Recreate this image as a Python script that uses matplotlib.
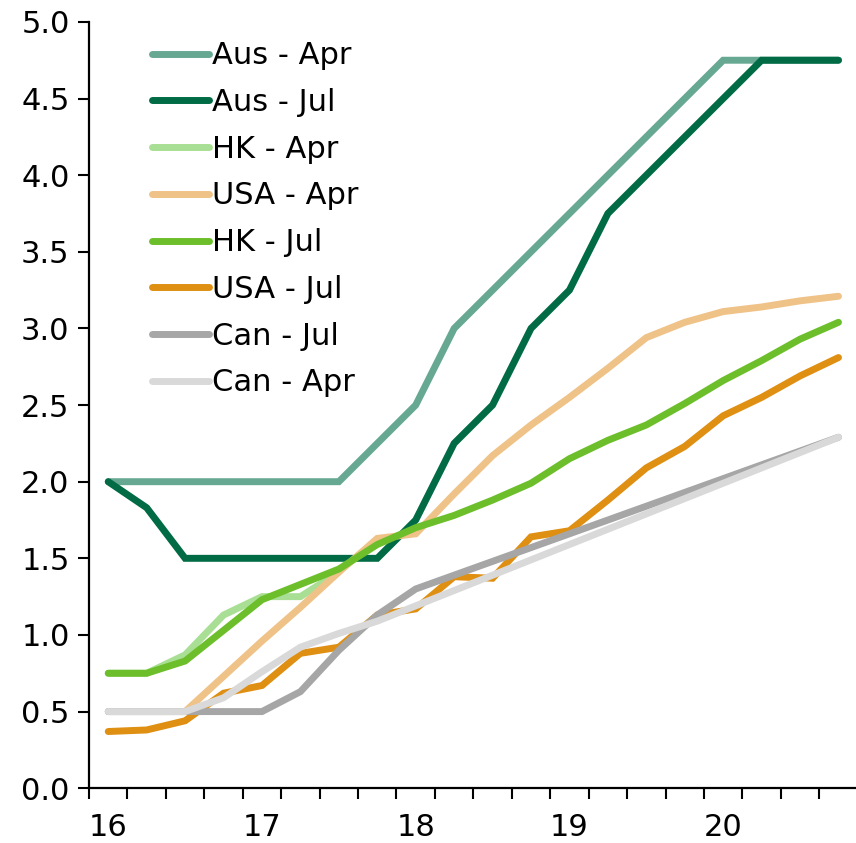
import numpy as np
import matplotlib
matplotlib.use("Agg")
import matplotlib.pyplot as plt
from matplotlib.ticker import FixedLocator, FormatStrFormatter

# quarterly, 2016Q1 .. 2020Q4
quarters = ["16", "", "", "", "17", "", "", "", "18", "", "", "",
            "19", "", "", "", "20", "", "", ""]

nan = np.nan
aus_apr = [2.0, 2.0, 2.0, 2.0, 2.0, 2.0, 2.0, 2.25, 2.5, 3.0, 3.25, 3.5,
           3.75, 4.0, 4.25, 4.5, 4.75, 4.75, 4.75, 4.75]
aus_jul = [2.0, 1.83, 1.5, 1.5, 1.5, 1.5, 1.5, 1.5, 1.75, 2.25, 2.5, 3.0,
           3.25, 3.75, 4.0, 4.25, 4.5, 4.75, 4.75, 4.75]
hk_apr = [0.75, 0.75, 0.87, 1.13, 1.25, 1.25, 1.41, nan, nan, nan, nan, nan,
          nan, nan, nan, nan, nan, nan, nan, nan]
usa_apr = [0.5, 0.5, 0.5, 0.73, 0.96, 1.18, 1.41, 1.63, 1.66, 1.92, 2.17, 2.37,
           2.55, 2.74, 2.94, 3.04, 3.11, 3.14, 3.18, 3.21]
hk_jul = [0.75, 0.75, 0.83, 1.03, 1.23, 1.33, 1.43, 1.59, 1.70, 1.78, 1.88, 1.99,
          2.15, 2.27, 2.37, 2.51, 2.66, 2.79, 2.93, 3.04]
usa_jul = [0.37, 0.38, 0.44, 0.62, 0.67, 0.88, 0.92, 1.13, 1.17, 1.38, 1.37, 1.64,
           1.68, 1.88, 2.09, 2.23, 2.43, 2.55, 2.69, 2.81]
can_jul = [0.5, 0.5, 0.5, 0.5, 0.5, 0.63, 0.9, 1.13, 1.30, 1.39, 1.48, 1.57,
           1.66, 1.75, 1.84, 1.93, 2.02, 2.11, 2.20, 2.29]
can_apr = [0.5, 0.5, 0.5, 0.59, 0.76, 0.92, 1.01, 1.09, 1.19, 1.29, 1.39, 1.49,
           1.59, 1.69, 1.79, 1.89, 1.99, 2.09, 2.19, 2.29]

series = [
    ("Aus - Apr", aus_apr, "#67a893"),
    ("Aus - Jul", aus_jul, "#006b45"),
    ("HK - Apr", hk_apr, "#a9df94"),
    ("USA - Apr", usa_apr, "#efc287"),
    ("HK - Jul", hk_jul, "#6cbf2b"),
    ("USA - Jul", usa_jul, "#df8f12"),
    ("Can - Jul", can_jul, "#a6a6a6"),
    ("Can - Apr", can_apr, "#d9d9d9"),
]

plt.rcParams["font.family"] = ["DejaVu Sans"]

fig = plt.figure(figsize=(8.56, 8.43), dpi=100)
ax = fig.add_axes([0.104, 0.065, 0.898, 0.909])

x = np.arange(len(quarters))
for name, vals, col in series:
    ax.plot(x, vals, color=col, lw=5, label=name, solid_capstyle="round",
            solid_joinstyle="miter")

ax.set_xlim(-0.5, len(quarters) - 0.5)
ax.set_ylim(0, 5)

# category axis: tick marks between quarters, labels on Q1
ax.xaxis.set_major_locator(FixedLocator(np.arange(-0.5, len(quarters), 1.0)))
ax.xaxis.set_major_formatter(plt.NullFormatter())
lab_pos = [i for i, q in enumerate(quarters) if q]
ax.xaxis.set_minor_locator(FixedLocator(lab_pos))
ax.set_xticklabels([quarters[i] for i in lab_pos], minor=True)
ax.tick_params(axis="x", which="minor", length=0, pad=18, labelsize=22)
ax.tick_params(axis="x", which="major", length=8, width=1.5, direction="out")

ax.set_yticks(np.arange(0, 5.01, 0.5))
ax.yaxis.set_major_formatter(FormatStrFormatter("%.1f"))
ax.tick_params(axis="y", length=8, width=1.5, direction="out", labelsize=22, pad=6)

for s in ["top", "right"]:
    ax.spines[s].set_visible(False)
for s in ["left", "bottom"]:
    ax.spines[s].set_linewidth(1.6)
ax.spines["bottom"].set_zorder(5)

leg = fig.legend(loc="upper left", bbox_to_anchor=(0.178, 0.951), frameon=False,
                 fontsize=22, handlelength=1.85, handletextpad=0.1,
                 labelspacing=0.58, borderpad=0, borderaxespad=0)

fig.savefig("out.png", dpi=100)
